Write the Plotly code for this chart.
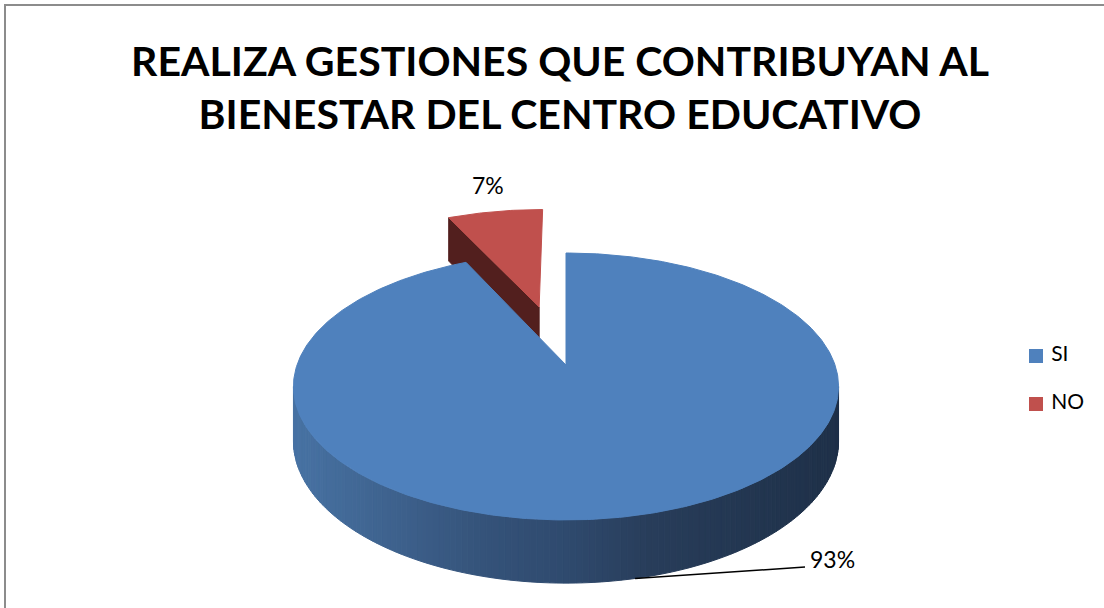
import numpy as np
import plotly.graph_objects as go

# ---- data ----
categories = ["SI", "NO"]
values = [93, 7]
colors_top = ["#4F81BD", "#C0504D"]
title_lines = ["REALIZA GESTIONES QUE CONTRIBUYAN AL", "BIENESTAR DEL CENTRO EDUCATIVO"]

W, H = 1104, 608
# ---- 3D pie projection (style constants) ----
CX, Y0 = 566.0, 365.0     # vertex of pie (pixel space)
A, B, K, D = 269.0, 130.0, 0.161, 53.0
PULL = [0.0, 0.493]       # explode fraction per slice

def proj(u, v, z=0.0):
    w = 1 + K * v
    return CX + A * u / w, Y0 + (-B * v + D * z) / w

def rim(theta_deg, off=(0.0, 0.0), z=0.0):
    t = np.radians(theta_deg)
    return proj(off[0] + np.sin(t), off[1] + np.cos(t), z)

total = float(sum(values))
angles = []
start = 0.0
for v in values:
    end = start + 360.0 * v / total
    angles.append((start, end))
    start = end

offsets = []
for (a0, a1), p in zip(angles, PULL):
    mid = np.radians((a0 + a1) / 2)
    offsets.append((p * np.sin(mid), p * np.cos(mid)))

fig = go.Figure()

def poly(xs, ys, color):
    fig.add_trace(go.Scatter(x=list(xs), y=list(ys), mode="lines", fill="toself",
                             fillcolor=color, line=dict(color=color, width=1),
                             hoverinfo="skip", showlegend=False))

# ---- NO slice (exploded, behind) ----
a0, a1 = angles[1]
off = offsets[1]
vt = proj(off[0], off[1], 0)
vb = proj(off[0], off[1], 1)
ot = rim(a0, off, 0)
ob = rim(a0, off, 1)
poly([vt[0], ot[0], ob[0], vb[0], vt[0]], [vt[1], ot[1], ob[1], vb[1], vt[1]], "#521F1E")
ths = np.linspace(a0, a1, 40)
xs = [vt[0]] + [rim(t, off)[0] for t in ths] + [vt[0]]
ys = [vt[1]] + [rim(t, off)[1] for t in ths] + [vt[1]]
poly(xs, ys, colors_top[1])

# ---- SI slice side (front visible part), shaded strips ----
stops_x = [290, 480, 565, 650, 840]
stops_c = np.array([[72, 115, 164], [53, 83, 122], [47, 74, 110], [40, 61, 90], [30, 48, 72]])

def side_color(x):
    c = [np.interp(x, stops_x, stops_c[:, i]) for i in range(3)]
    return "rgb(%d,%d,%d)" % tuple(int(round(q)) for q in c)

th_r = np.degrees(np.arccos(-K))
th_l = 360 - th_r
s0, s1 = angles[0]
lo, hi = max(th_r, s0), min(th_l, s1)
edges = np.linspace(lo, hi, 140)
for ta, tb in zip(edges[:-1], edges[1:]):
    pa, pb = rim(ta), rim(tb)
    qa, qb = rim(ta, z=1), rim(tb, z=1)
    poly([pa[0], pb[0], qb[0], qa[0], pa[0]], [pa[1], pb[1], qb[1], qa[1], pa[1]],
         side_color((pa[0] + pb[0]) / 2))

# ---- SI slice top ----
ths = np.linspace(s0, s1, 400)
v0 = proj(0, 0)
xs = [v0[0]] + [rim(t)[0] for t in ths] + [v0[0]]
ys = [v0[1]] + [rim(t)[1] for t in ths] + [v0[1]]
poly(xs, ys, colors_top[0])

# ---- data labels ----
pct = [f"{round(v / total * 100)}%" for v in values]
lead_start = rim(167.5, z=1)
lead_end = (805, 567)
fig.add_shape(type="line", x0=lead_start[0], y0=lead_start[1], x1=lead_end[0], y1=lead_end[1],
              xref="x", yref="y", line=dict(color="black", width=1.5))
fig.add_annotation(x=lead_end[0] + 3, y=lead_end[1] - 8, text=pct[0], showarrow=False,
                   xanchor="left", yanchor="middle", font=dict(family="Lato", size=23, color="black"))
fig.add_annotation(x=488, y=185, text=pct[1], showarrow=False,
                   xanchor="center", yanchor="middle", font=dict(family="Lato", size=23, color="black"))

# ---- legend (markers + text) ----
leg_y = [356, 404]
for cat, col, ly in zip(categories, colors_top, leg_y):
    fig.add_trace(go.Scatter(x=[1036], y=[ly], mode="markers+text", text=[" " + cat],
                             textposition="middle right",
                             textfont=dict(family="Lato", size=21, color="black"),
                             marker=dict(symbol="square", size=14, color=col),
                             hoverinfo="skip", showlegend=False))

# ---- border ----
fig.add_shape(type="rect", xref="paper", yref="paper", x0=5 / W, x1=1.02, y0=-0.02, y1=1 - 5 / H,
              line=dict(color="#8C8C8C", width=2), fillcolor="rgba(0,0,0,0)")

fig.update_layout(
    width=W, height=H,
    margin=dict(l=0, r=0, t=0, b=0),
    paper_bgcolor="white", plot_bgcolor="white",
    title=dict(text="<br>".join(title_lines), x=560 / W, xanchor="center",
               y=1 - 76 / H, yanchor="middle", yref="container",
               font=dict(family="Lato", size=41, color="black", weight="bold")),
    xaxis=dict(range=[0, W], visible=False, fixedrange=True),
    yaxis=dict(range=[H, 0], visible=False, fixedrange=True),
    showlegend=False,
)

fig.write_html("out.html", config={"displayModeBar": False},
               post_script="document.body.style.margin='0';")
